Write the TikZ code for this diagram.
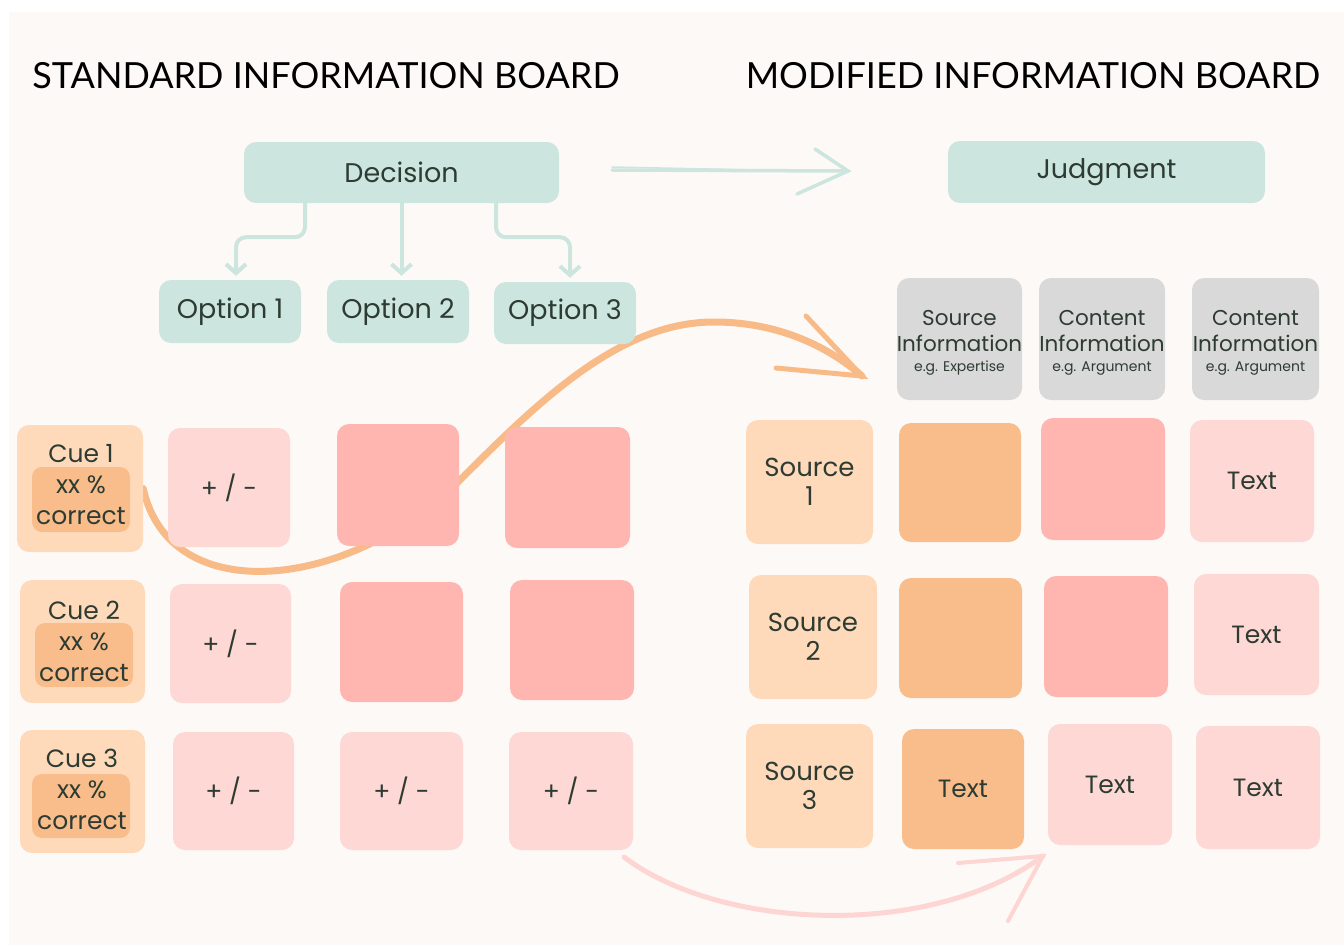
\documentclass[tikz,border=0pt]{standalone}
\usepackage{fontspec}
\setmainfont{Poppins}
\newfontfamily\titlefont{Lato}
\usetikzlibrary{arrows.meta}
\definecolor{cbg}{HTML}{FDF9F6}
\definecolor{cteal}{HTML}{CCE6DF}
\definecolor{cgrey}{HTML}{D9D9D9}
\definecolor{cpeach}{HTML}{FEDABA}
\definecolor{corange}{HTML}{F9BD8C}
\definecolor{csalmon}{HTML}{FFB6B0}
\definecolor{cpink}{HTML}{FED8D5}
\definecolor{ccurve}{HTML}{F8BB88}
\definecolor{cpinkarrow}{HTML}{FDD5D2}
\definecolor{ctext}{HTML}{2D3B32}
\pgfdeclarelayer{back}
\pgfdeclarelayer{curve}
\pgfsetlayers{back,curve,main}
\begin{document}
\begin{tikzpicture}[x=1pt,y=-1pt,
  every node/.style={inner sep=0pt, text=ctext},
  sz/.style 2 args={minimum width=#1, minimum height=#2},
  blk/.style={rounded corners=12pt, align=center},
  tealbox/.style={blk, fill=cteal, font=\fontsize{27}{30}\selectfont},
  greybox/.style={blk, fill=cgrey},
  cuebox/.style={blk, fill=cpeach},
  cueinner/.style={rounded corners=10pt, fill=corange},
  peachbox/.style={blk, fill=cpeach, font=\fontsize{26}{29}\selectfont},
  orangebox/.style={blk, fill=corange, font=\fontsize{25}{28}\selectfont},
  salmonbox/.style={blk, fill=csalmon},
  pinkbox/.style={blk, fill=cpink, font=\fontsize{25}{28}\selectfont},
  cuetext/.style={align=center, font=\fontsize{25}{31}\selectfont},
  headtext/.style={align=center, font=\fontsize{21.5}{26}\selectfont},
  titletext/.style={font=\titlefont\fontsize{36}{40}\selectfont, text=black},
  conn/.style={draw=cteal, line width=4pt, rounded corners=10pt, shorten >=4pt,
    -{Straight Barb[length=9pt,width=20pt,line width=4pt]}},
  tealline/.style={draw=cteal, line width=3.5pt, line cap=round},
  orangeline/.style={draw=ccurve, line width=7pt, line cap=round},
  pinkline/.style={draw=cpinkarrow, line width=5pt, line cap=round}
]
\useasboundingbox (0,0) rectangle (1344,945);
\begin{pgfonlayer}{back}
  \fill[white] (0,0) rectangle (1344,945);
  \fill[cbg] (9,12) rectangle (1344,945);
\end{pgfonlayer}

% titles
\node[titletext] (t1) at (326,76) {STANDARD INFORMATION BOARD};
\node[titletext] (t2) at (1033,76) {MODIFIED INFORMATION BOARD};

% decision tree
\node[tealbox, sz={315}{61}] (decision) at (401.5,172.5) {Decision};
\node[tealbox, sz={142}{63}] (opt1) at (230,311.5) {Option 1};
\node[tealbox, sz={142}{63}] (opt2) at (398,311.5) {Option 2};
\node[tealbox, sz={142}{62}] (opt3) at (565,313) {Option 3};
\draw[conn] ([xshift=-96.5pt]decision.south) -- ++(0,34) -| ([xshift=6pt]opt1.north);
\draw[conn] (decision.south) -- (decision.south |- opt2.north);
\draw[conn] ([xshift=94.5pt]decision.south) -- ++(0,34) -| ([xshift=5pt]opt3.north);

% judgment
\node[tealbox, sz={317}{62}] (judgment) at (1106.5,172) {Judgment};
\coordinate (ta1) at (612,170);
\coordinate (ta2) at (848,171);
\coordinate (tb1) at (815,149);
\coordinate (tb2) at (797,194);
\draw[tealline] (ta1) -- (ta2);
\draw[tealline, line width=1.5pt] ([yshift=3pt]ta1) -- ([xshift=-40pt]ta2);
\draw[tealline] (tb1) -- (ta2) -- (tb2);

% headers
\node[greybox, sz={125}{122}] (h1) at (959.5,339) {};
\node[greybox, sz={126}{122}] (h2) at (1102,339) {};
\node[greybox, sz={127}{122}] (h3) at (1255.5,339) {};
\node[headtext] (h1t) at (959.5,343) {Source\\Information\\[-6pt]{\fontsize{14}{16}\selectfont e.g. Expertise}};
\node[headtext] (h2t) at (1102,343) {Content\\Information\\[-6pt]{\fontsize{14}{16}\selectfont e.g. Argument}};
\node[headtext] (h3t) at (1255.5,343) {Content\\Information\\[-6pt]{\fontsize{14}{16}\selectfont e.g. Argument}};

% left grid
\node[cuebox, sz={126}{127}] (cue1) at (80,488.5) {};
\node[cueinner, sz={98}{65}] (cue1in) at (81,499.5) {};
\node[cuetext] (cue1t) at (81,485) {Cue 1\\xx \%\\correct};
\node[cuebox, sz={125}{123}] (cue2) at (82.5,641.5) {};
\node[cueinner, sz={98}{64}] (cue2in) at (84,655) {};
\node[cuetext] (cue2t) at (84,641) {Cue 2\\xx \%\\correct};
\node[cuebox, sz={125}{123}] (cue3) at (82.5,791.5) {};
\node[cueinner, sz={98}{64}] (cue3in) at (81,806) {};
\node[cuetext] (cue3t) at (82,789) {Cue 3\\xx \%\\correct};

\node[pinkbox, sz={122}{119}] (a12) at (229,487.5) {+~/~-};
\node[salmonbox, sz={122}{122}] (a13) at (398,485) {};
\node[salmonbox, sz={125}{121}] (a14) at (567.5,487.5) {};
\node[pinkbox, sz={121}{119}] (a22) at (230.5,643.5) {+~/~-};
\node[salmonbox, sz={123}{120}] (a23) at (401.5,642) {};
\node[salmonbox, sz={124}{120}] (a24) at (572,640) {};
\node[pinkbox, sz={121}{118}] (a32) at (233.5,791) {+~/~-};
\node[pinkbox, sz={123}{118}] (a33) at (401.5,791) {+~/~-};
\node[pinkbox, sz={124}{118}] (a34) at (571,791) {+~/~-};

% right grid
\node[peachbox, sz={127}{124}] (src1) at (809.5,482) {Source\\1};
\node[peachbox, sz={128}{124}] (src2) at (813,637) {Source\\2};
\node[peachbox, sz={127}{124}] (src3) at (809.5,786) {Source\\3};
\node[orangebox, sz={122}{119}] (b12) at (960,482.5) {};
\node[orangebox, sz={123}{120}] (b22) at (960.5,638) {};
\node[orangebox, sz={122}{120}] (b32) at (963,789) {Text};
\node[salmonbox, sz={124}{122}] (b13) at (1103,479) {};
\node[salmonbox, sz={124}{121}] (b23) at (1106,636.5) {};
\node[pinkbox, sz={124}{121}] (b33) at (1110,784.5) {Text};
\node[pinkbox, sz={124}{122}] (b14) at (1252,481) {Text};
\node[pinkbox, sz={125}{121}] (b24) at (1256.5,634.5) {Text};
\node[pinkbox, sz={124}{123}] (b34) at (1258,787.5) {Text};

% curves behind boxes
\coordinate (oa) at (862,376);
\coordinate (ob1) at (806,316);
\coordinate (ob2) at (776,368);
\coordinate (pa1) at (624,857);
\coordinate (pa2) at (1043,856);
\coordinate (pb1) at (958,863);
\coordinate (pb2) at (1008,921);
\begin{pgfonlayer}{curve}
  \draw[orangeline] (cue1.east) .. controls (170,610) and (350,590) .. (460,480)
     .. controls (540,400) and (620,322) .. (714,322)
     .. controls (780,322) and (830,348) .. (oa);
  \draw[orangeline, line width=5pt] (ob1) -- (oa) -- (ob2);
  \draw[pinkline] (pa1) .. controls (720,930) and (930,940) .. (pa2);
  \draw[pinkline, line width=4pt] (pb1) -- (pa2) -- (pb2);
\end{pgfonlayer}
\end{tikzpicture}
\end{document}
